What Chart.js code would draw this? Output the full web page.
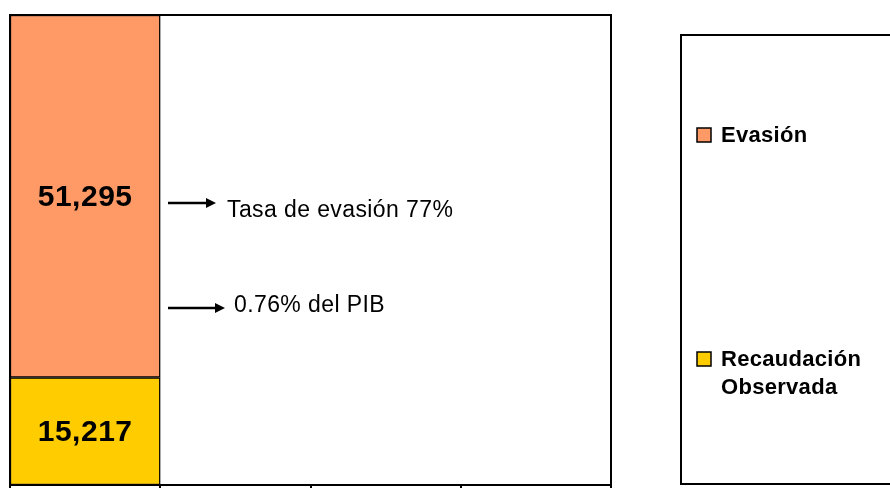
<!DOCTYPE html>
<html lang="es">
<head>
    <meta charset="UTF-8">
    <title>Evasión</title>
    <script src="https://cdn.jsdelivr.net/npm/chart.js"></script>
    <style>
        body {
            margin: 0;
            padding: 0;
            background: #ffffff;
        }
        #wrap {
            width: 890px;
            height: 488px;
        }
    </style>
</head>
<body>
<div id="wrap">
    <canvas id="chart" width="890" height="488"></canvas>
</div>

<script>
    // data
    const categories = ['', '', '', ''];
    const recaudacion = [15217, null, null, null];
    const evasion = [51295, null, null, null];
    const seriesLabels = ['Recaudación Observada', 'Evasión'];
    const notes = ['Tasa de evasión 77%', '0.76% del PIB'];

    const FONT = 'Arial, "Liberation Sans", sans-serif';
    const total = recaudacion[0] + evasion[0];

    // frame around the plot area (top + right side)
    const framePlugin = {
        id: 'frame',
        afterDraw(chart) {
            const a = chart.chartArea;
            const ctx = chart.ctx;
            ctx.save();
            ctx.strokeStyle = '#000';
            ctx.lineWidth = 2;
            ctx.strokeRect(a.left, a.top, a.right - a.left, a.bottom - a.top);
            ctx.restore();
        }
    };

    // value labels inside the bars
    const valueLabels = {
        id: 'valueLabels',
        afterDatasetsDraw(chart) {
            const ctx = chart.ctx;
            ctx.save();
            ctx.font = 'bold 30px ' + FONT;
            ctx.letterSpacing = '0.5px';
            ctx.fillStyle = '#000';
            ctx.textAlign = 'center';
            ctx.textBaseline = 'middle';
            chart.data.datasets.forEach((ds, i) => {
                chart.getDatasetMeta(i).data.forEach((bar, j) => {
                    const v = ds.data[j];
                    if (v == null) return;
                    const p = bar.getCenterPoint();
                    ctx.fillText(v.toLocaleString('en-US'), p.x, p.y + 1);
                });
            });
            ctx.restore();
        }
    };

    // arrows with the two notes
    const notesPlugin = {
        id: 'notes',
        afterDraw(chart) {
            const ctx = chart.ctx;
            const a = chart.chartArea;
            const x0 = a.left + 158;
            const items = [
                { text: notes[0], y: 203, end: 216, tx: 227, ty: 211 },
                { text: notes[1], y: 308, end: 225, tx: 234, ty: 306 }
            ];
            ctx.save();
            items.forEach(it => {
                ctx.strokeStyle = '#000';
                ctx.fillStyle = '#000';
                ctx.lineWidth = 2.5;
                ctx.beginPath();
                ctx.moveTo(x0, it.y);
                ctx.lineTo(it.end - 6, it.y);
                ctx.stroke();
                ctx.beginPath();
                ctx.moveTo(it.end, it.y);
                ctx.lineTo(it.end - 10, it.y - 5);
                ctx.lineTo(it.end - 10, it.y + 5);
                ctx.closePath();
                ctx.fill();

                ctx.font = '23px ' + FONT;
                ctx.letterSpacing = '0.4px';
                ctx.textAlign = 'left';
                ctx.textBaseline = 'middle';
                ctx.fillText(it.text, it.tx, it.ty);
            });
            ctx.restore();
        }
    };

    // boxed legend on the right, reverse order
    const legendBox = {
        id: 'legendBox',
        afterDraw(chart) {
            const ctx = chart.ctx;
            ctx.save();
            ctx.strokeStyle = '#000';
            ctx.lineWidth = 2;
            ctx.beginPath();
            ctx.moveTo(900, 35);
            ctx.lineTo(681, 35);
            ctx.lineTo(681, 484);
            ctx.lineTo(900, 484);
            ctx.stroke();

            const ds = chart.data.datasets;
            const rows = [
                { ds: ds[1], y: 135, lines: ['Evasión'] },
                { ds: ds[0], y: 359, lines: ['Recaudación', 'Observada'] }
            ];
            ctx.font = 'bold 22px ' + FONT;
            ctx.letterSpacing = '0.3px';
            ctx.textAlign = 'left';
            ctx.textBaseline = 'middle';
            rows.forEach(r => {
                ctx.fillStyle = r.ds.backgroundColor;
                ctx.fillRect(697, r.y - 7, 14, 14);
                ctx.lineWidth = 1.5;
                ctx.strokeStyle = '#000';
                ctx.strokeRect(697, r.y - 7, 14, 14);
                ctx.fillStyle = '#000';
                r.lines.forEach((t, k) => ctx.fillText(t, 721, r.y + 1 + k * 28));
            });
            ctx.restore();
        }
    };

    new Chart(document.getElementById('chart'), {
        type: 'bar',
        data: {
            labels: categories,
            datasets: [
                {
                    label: seriesLabels[0],
                    data: recaudacion,
                    backgroundColor: '#FFCC00',
                    borderColor: '#000',
                    borderWidth: 1.5,
                    borderSkipped: false
                },
                {
                    label: seriesLabels[1],
                    data: evasion,
                    backgroundColor: '#FF9966',
                    borderColor: '#000',
                    borderWidth: 1.5,
                    borderSkipped: false
                }
            ]
        },
        options: {
            responsive: false,
            animation: false,
            barPercentage: 1,
            categoryPercentage: 1,
            layout: { padding: { left: 10, top: 15, right: 279, bottom: 0 } },
            plugins: {
                legend: { display: false },
                tooltip: { enabled: false }
            },
            scales: {
                x: {
                    stacked: true,
                    grid: {
                        offset: true,
                        drawOnChartArea: false,
                        drawTicks: true,
                        tickLength: 3,
                        color: '#000',
                        lineWidth: 2
                    },
                    border: { color: '#000', width: 2 },
                    ticks: { display: false }
                },
                y: {
                    stacked: true,
                    display: false,
                    min: 0,
                    max: total
                }
            }
        },
        plugins: [framePlugin, valueLabels, notesPlugin, legendBox]
    });
</script>
</body>
</html>
